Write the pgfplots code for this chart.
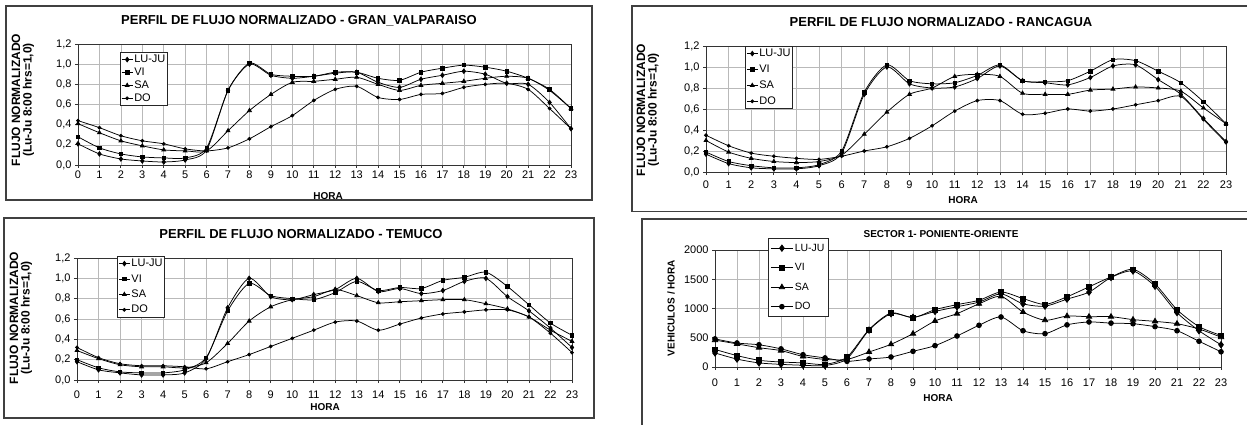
\documentclass[border=0pt]{standalone}
\usepackage{pgfplots}
\pgfplotsset{compat=1.18}
\usepackage{fontspec}
\setmainfont{Liberation Sans}

\pgfplotsset{
  base/.style={
    scale only axis, xmin=0, xmax=23, xtick={0,...,23},
    grid=major, major grid style={gray!55, line width=0.6bp},
    axis line style={black!80, line width=0.9bp},
    tick align=outside, tick pos=left, major tick length=3bp,
    tick style={black!80, line width=0.8bp},
    ticklabel style={font=\fontsize{11bp}{12bp}\selectfont},
    /pgf/number format/assume math mode=true,
    legend cell align=left,
    legend style={draw=black!85, line width=0.8bp, fill=white, inner sep=1bp,
      font=\fontsize{11bp}{11bp}\selectfont,
      nodes={inner sep=1.2bp, text height=8bp, text depth=2bp}, anchor=north west},
    legend image code/.code={\draw[mark repeat=2,mark phase=2,#1] plot coordinates {(0bp,0bp) (5.5bp,0bp) (11bp,0bp)};},
    every axis plot/.append style={black, line width=0.75bp, smooth, tension=0.45,
      mark options={fill=black, solid}},
  },
  norm/.style={base, ymin=0, ymax=1.2, ytick={0,0.2,...,1.21},
    yticklabel style={/pgf/number format/.cd, fixed, fixed zerofill, precision=1, use comma}},
  mLJ/.style={mark=diamond*, mark size=2.3bp},
  mVI/.style={mark=square*, mark size=1.7bp},
  mSA/.style={mark=triangle*, mark size=2.2bp},
  mDO/.style={mark=*, mark size=1.5bp},
}

\begin{document}
\begin{tikzpicture}
\path[use as bounding box] (0,0) rectangle (1247bp,425bp);

% panel frames
\draw[line width=1.6bp, black!75] (6bp,225bp) rectangle (592bp,419bp);
\draw[line width=1.6bp, black!75] (1252bp,419bp) -- (632bp,419bp) -- (632bp,213.5bp) -- (1252bp,213.5bp);
\draw[line width=1.6bp, black!75] (4bp,7bp) rectangle (594bp,207bp);
\draw[line width=1.6bp, black!75] (1252bp,206bp) -- (642bp,206bp) -- (642bp,-5bp);

% ---------- GRAN VALPARAISO ----------
\begin{axis}[norm, at={(78bp,260bp)}, width=493bp, height=121bp,
  xticklabel shift={-0.5bp},
  legend style={at={(0.085,0.934)}, row sep=0.5bp}]
\addplot[mLJ] coordinates {(0,0.21)(1,0.11)(2,0.06)(3,0.04)(4,0.03)(5,0.05)(6,0.15)(7,0.74)(8,1.00)(9,0.89)(10,0.86)(11,0.88)(12,0.91)(13,0.92)(14,0.82)(15,0.77)(16,0.85)(17,0.89)(18,0.93)(19,0.90)(20,0.81)(21,0.80)(22,0.62)(23,0.36)};
\addplot[mVI] coordinates {(0,0.28)(1,0.17)(2,0.11)(3,0.08)(4,0.07)(5,0.07)(6,0.17)(7,0.74)(8,1.01)(9,0.90)(10,0.88)(11,0.88)(12,0.92)(13,0.92)(14,0.86)(15,0.84)(16,0.92)(17,0.96)(18,0.99)(19,0.97)(20,0.93)(21,0.86)(22,0.75)(23,0.56)};
\addplot[mSA] coordinates {(0,0.41)(1,0.32)(2,0.24)(3,0.19)(4,0.15)(5,0.14)(6,0.14)(7,0.34)(8,0.54)(9,0.70)(10,0.82)(11,0.83)(12,0.85)(13,0.87)(14,0.80)(15,0.74)(16,0.79)(17,0.81)(18,0.83)(19,0.86)(20,0.88)(21,0.86)(22,0.74)(23,0.56)};
\addplot[mDO] coordinates {(0,0.44)(1,0.37)(2,0.29)(3,0.24)(4,0.21)(5,0.16)(6,0.14)(7,0.17)(8,0.26)(9,0.38)(10,0.49)(11,0.64)(12,0.75)(13,0.78)(14,0.67)(15,0.65)(16,0.70)(17,0.71)(18,0.77)(19,0.80)(20,0.81)(21,0.75)(22,0.56)(23,0.36)};
\legend{LU-JU,VI,SA,DO}
\end{axis}

% ---------- RANCAGUA ----------
\begin{axis}[norm, at={(706bp,253bp)}, width=520bp, height=126bp,
  xticklabel shift={2.5bp},
  legend style={at={(0.075,1.0)}, row sep=3.5bp}]
\addplot[mLJ] coordinates {(0,0.17)(1,0.08)(2,0.04)(3,0.03)(4,0.03)(5,0.06)(6,0.18)(7,0.74)(8,1.00)(9,0.84)(10,0.80)(11,0.81)(12,0.89)(13,1.01)(14,0.87)(15,0.85)(16,0.83)(17,0.90)(18,1.01)(19,1.02)(20,0.88)(21,0.74)(22,0.51)(23,0.29)};
\addplot[mVI] coordinates {(0,0.19)(1,0.10)(2,0.06)(3,0.04)(4,0.04)(5,0.07)(6,0.20)(7,0.76)(8,1.02)(9,0.87)(10,0.84)(11,0.85)(12,0.92)(13,1.02)(14,0.87)(15,0.86)(16,0.87)(17,0.96)(18,1.07)(19,1.06)(20,0.96)(21,0.85)(22,0.67)(23,0.46)};
\addplot[mSA] coordinates {(0,0.30)(1,0.19)(2,0.13)(3,0.10)(4,0.09)(5,0.10)(6,0.16)(7,0.36)(8,0.57)(9,0.74)(10,0.80)(11,0.91)(12,0.93)(13,0.91)(14,0.75)(15,0.74)(16,0.74)(17,0.78)(18,0.79)(19,0.81)(20,0.80)(21,0.77)(22,0.61)(23,0.46)};
\addplot[mDO] coordinates {(0,0.35)(1,0.25)(2,0.18)(3,0.15)(4,0.13)(5,0.12)(6,0.15)(7,0.20)(8,0.24)(9,0.32)(10,0.44)(11,0.58)(12,0.68)(13,0.68)(14,0.55)(15,0.56)(16,0.60)(17,0.58)(18,0.60)(19,0.64)(20,0.68)(21,0.72)(22,0.50)(23,0.28)};
\legend{LU-JU,VI,SA,DO}
\end{axis}

% ---------- TEMUCO ----------
\begin{axis}[norm, at={(77bp,45bp)}, width=495bp, height=122bp,
  xticklabel shift={4.5bp},
  legend style={at={(0.081,1.016)}, row sep=3bp}]
\addplot[mLJ] coordinates {(0,0.18)(1,0.10)(2,0.07)(3,0.05)(4,0.05)(5,0.07)(6,0.21)(7,0.71)(8,1.00)(9,0.82)(10,0.79)(11,0.84)(12,0.89)(13,1.00)(14,0.87)(15,0.90)(16,0.85)(17,0.88)(18,0.97)(19,1.00)(20,0.82)(21,0.68)(22,0.51)(23,0.32)};
\addplot[mVI] coordinates {(0,0.20)(1,0.12)(2,0.08)(3,0.07)(4,0.07)(5,0.10)(6,0.22)(7,0.68)(8,0.95)(9,0.83)(10,0.80)(11,0.79)(12,0.86)(13,0.97)(14,0.88)(15,0.91)(16,0.90)(17,0.98)(18,1.01)(19,1.06)(20,0.92)(21,0.74)(22,0.56)(23,0.44)};
\addplot[mSA] coordinates {(0,0.29)(1,0.21)(2,0.15)(3,0.13)(4,0.13)(5,0.12)(6,0.17)(7,0.36)(8,0.58)(9,0.72)(10,0.79)(11,0.82)(12,0.89)(13,0.83)(14,0.76)(15,0.77)(16,0.78)(17,0.79)(18,0.79)(19,0.75)(20,0.70)(21,0.62)(22,0.49)(23,0.38)};
\addplot[mDO] coordinates {(0,0.32)(1,0.22)(2,0.16)(3,0.14)(4,0.14)(5,0.13)(6,0.11)(7,0.18)(8,0.25)(9,0.33)(10,0.41)(11,0.49)(12,0.57)(13,0.58)(14,0.49)(15,0.55)(16,0.61)(17,0.65)(18,0.67)(19,0.69)(20,0.69)(21,0.62)(22,0.46)(23,0.27)};
\legend{LU-JU,VI,SA,DO}
\end{axis}

% ---------- SECTOR 1 ----------
\begin{axis}[base, at={(715bp,58bp)}, width=506bp, height=117bp,
  ymin=0, ymax=2000, ytick={0,500,1000,1500,2000},
  xticklabel shift={5bp},
  yticklabel style={/pgf/number format/.cd, 1000 sep={}},
  legend style={at={(0.105,1.10)}, font=\fontsize{10.5bp}{11bp}\selectfont, inner sep=2bp,
    nodes={inner sep=1.5bp, text height=9bp, text depth=3bp}, row sep=4.5bp},
  legend image code/.code={\draw[mark repeat=2,mark phase=2,#1] plot coordinates {(0bp,0bp) (11bp,0bp) (22bp,0bp)};},
  mLJ/.style={mark=diamond*, mark size=3.2bp},
  mVI/.style={mark=square*, mark size=2.4bp},
  mSA/.style={mark=triangle*, mark size=3.1bp},
  mDO/.style={mark=*, mark size=2.4bp}]
\addplot[mLJ] coordinates {(0,240)(1,135)(2,70)(3,45)(4,30)(5,25)(6,140)(7,630)(8,910)(9,850)(10,950)(11,1030)(12,1110)(13,1250)(14,1080)(15,1040)(16,1160)(17,1280)(18,1530)(19,1640)(20,1380)(21,930)(22,620)(23,380)};
\addplot[mVI] coordinates {(0,300)(1,195)(2,115)(3,85)(4,70)(5,45)(6,170)(7,640)(8,923)(9,844)(10,980)(11,1066)(12,1140)(13,1282)(14,1170)(15,1070)(16,1200)(17,1370)(18,1540)(19,1670)(20,1420)(21,980)(22,690)(23,540)};
\addplot[mSA] coordinates {(0,460)(1,395)(2,330)(3,280)(4,180)(5,130)(6,130)(7,256)(8,388)(9,570)(10,786)(11,912)(12,1080)(13,1208)(14,940)(15,800)(16,870)(17,860)(18,860)(19,810)(20,780)(21,740)(22,650)(23,510)};
\addplot[mDO] coordinates {(0,480)(1,410)(2,380)(3,310)(4,210)(5,155)(6,97)(7,137)(8,171)(9,268)(10,365)(11,530)(12,713)(13,855)(14,620)(15,570)(16,720)(17,770)(18,750)(19,740)(20,690)(21,620)(22,440)(23,260)};
\legend{LU-JU,VI,SA,DO}
\end{axis}

% titles
\node[font=\bfseries\fontsize{13bp}{14bp}\selectfont] at (299bp,404bp) {PERFIL DE FLUJO NORMALIZADO - GRAN\_VALPARAISO};
\node[font=\bfseries\fontsize{13bp}{14bp}\selectfont] at (941bp,403bp) {PERFIL DE FLUJO NORMALIZADO - RANCAGUA};
\node[font=\bfseries\fontsize{13bp}{14bp}\selectfont] at (301bp,191bp) {PERFIL DE FLUJO NORMALIZADO - TEMUCO};
\node[font=\bfseries\fontsize{10bp}{11bp}\selectfont] at (941bp,191bp) {SECTOR 1- PONIENTE-ORIENTE};

% y labels
\node[rotate=90, align=center, font=\bfseries\fontsize{12bp}{11.5bp}\selectfont] at (23bp,325bp) {FLUJO NORMALIZADO\\(Lu-Ju 8:00 hrs=1,0)};
\node[rotate=90, align=center, font=\bfseries\fontsize{12bp}{11.5bp}\selectfont] at (648bp,315bp) {FLUJO NORMALIZADO\\(Lu-Ju 8:00 hrs=1,0)};
\node[rotate=90, align=center, font=\bfseries\fontsize{12bp}{11.5bp}\selectfont] at (21bp,107bp) {FLUJO NORMALIZADO\\(Lu-Ju 8:00 hrs=1,0)};
\node[rotate=90, font=\bfseries\fontsize{10bp}{11bp}\selectfont] at (671bp,117bp) {VEHICULOS / HORA};

% x labels
\node[font=\bfseries\fontsize{10bp}{11bp}\selectfont] at (328bp,229bp) {HORA};
\node[font=\bfseries\fontsize{10bp}{11bp}\selectfont] at (963bp,225bp) {HORA};
\node[font=\bfseries\fontsize{10bp}{11bp}\selectfont] at (325bp,18bp) {HORA};
\node[font=\bfseries\fontsize{10bp}{11bp}\selectfont] at (938bp,27bp) {HORA};
\end{tikzpicture}
\end{document}
